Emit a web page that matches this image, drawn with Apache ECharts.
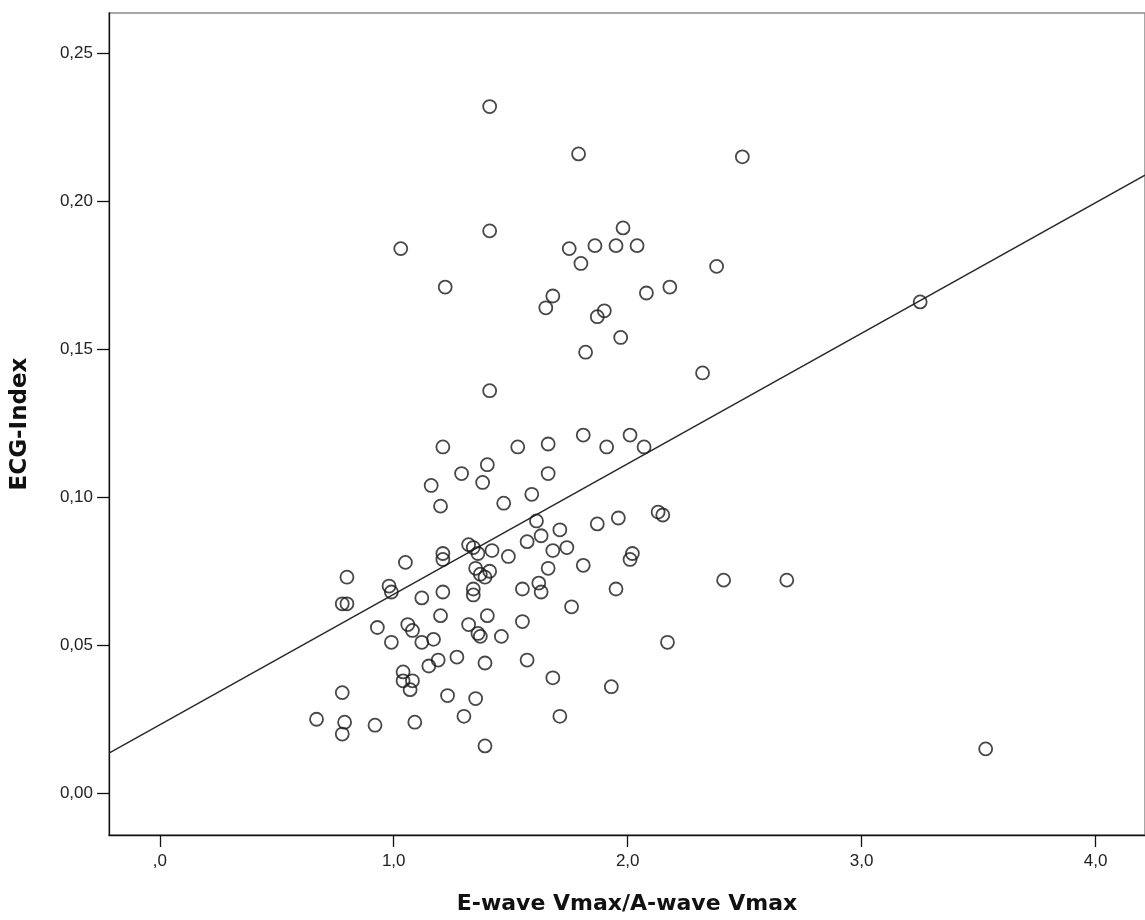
<!DOCTYPE html>
<html>
<head>
<meta charset="utf-8">
<script src="https://cdn.jsdelivr.net/npm/echarts@6/dist/echarts.min.js"></script>
<style>
  html, body { margin: 0; padding: 0; background: #fff; }
  #chart { width: 1145px; height: 920px; }
</style>
</head>
<body>
<div id="chart"></div>
<script>
// E/A ratio (x) against ECG-Index (y), one entry per subject
const eaRatio = [
  1.41, 1.79, 2.49, 1.03, 1.41, 1.98, 1.75, 1.86, 1.95, 2.04,
  1.80, 2.38, 1.22, 1.68, 1.65, 1.90, 1.87, 2.08, 2.18, 1.97,
  1.82, 2.32, 1.41, 3.25, 1.21, 1.53, 1.66, 1.81, 1.91, 2.01,
  2.07, 1.16, 1.29, 1.40, 1.38, 1.66, 1.20, 1.47, 1.59, 1.61,
  1.71, 1.87, 1.96, 2.13, 2.15, 1.32, 1.34, 1.36, 1.42, 1.49,
  1.57, 1.63, 1.68, 1.74, 2.02, 2.01, 1.21, 1.21, 1.05, 1.35,
  1.37, 1.39, 1.41, 1.66, 1.81, 0.80, 0.98, 0.99, 0.78, 0.80,
  1.21, 1.12, 1.34, 1.34, 1.55, 1.62, 1.63, 1.95, 2.41, 2.68,
  1.20, 1.40, 1.55, 1.32, 1.36, 1.37, 1.46, 1.76, 1.06, 1.08,
  0.93, 0.99, 1.12, 1.17, 1.27, 1.19, 1.15, 1.39, 1.57, 2.17,
  1.68, 1.93, 1.04, 1.04, 1.08, 1.07, 0.78, 1.23, 1.35, 0.67,
  0.79, 0.78, 0.92, 1.09, 1.30, 1.39, 1.71, 3.53
];
const ecgIndex = [
  0.232, 0.216, 0.215, 0.184, 0.190, 0.191, 0.184, 0.185, 0.185, 0.185,
  0.179, 0.178, 0.171, 0.168, 0.164, 0.163, 0.161, 0.169, 0.171, 0.154,
  0.149, 0.142, 0.136, 0.166, 0.117, 0.117, 0.118, 0.121, 0.117, 0.121,
  0.117, 0.104, 0.108, 0.111, 0.105, 0.108, 0.097, 0.098, 0.101, 0.092,
  0.089, 0.091, 0.093, 0.095, 0.094, 0.084, 0.083, 0.081, 0.082, 0.080,
  0.085, 0.087, 0.082, 0.083, 0.081, 0.079, 0.081, 0.079, 0.078, 0.076,
  0.074, 0.073, 0.075, 0.076, 0.077, 0.073, 0.070, 0.068, 0.064, 0.064,
  0.068, 0.066, 0.069, 0.067, 0.069, 0.071, 0.068, 0.069, 0.072, 0.072,
  0.060, 0.060, 0.058, 0.057, 0.054, 0.053, 0.053, 0.063, 0.057, 0.055,
  0.056, 0.051, 0.051, 0.052, 0.046, 0.045, 0.043, 0.044, 0.045, 0.051,
  0.039, 0.036, 0.041, 0.038, 0.038, 0.035, 0.034, 0.033, 0.032, 0.025,
  0.024, 0.020, 0.023, 0.024, 0.026, 0.016, 0.026, 0.015
];

// Linear fit line: ECG-Index = fitIntercept + fitSlope * E/A
const fitIntercept = 0.0231;
const fitSlope = 0.0441;

// Axis ranges and tick values
const xRange = [-0.217, 4.211];
const yRange = [-0.0141, 0.2636];
const xTicks = [0, 1, 2, 3, 4];
const yTicks = [0, 0.05, 0.10, 0.15, 0.20, 0.25];

const points = eaRatio.map((x, i) => [x, ecgIndex[i]]);
const fitLine = xRange.map(x => [x, fitIntercept + fitSlope * x]);

const fmtX = v => (v === 0 ? ',0' : v.toFixed(1).replace('.', ','));
const fmtY = v => v.toFixed(2).replace('.', ',');

const chart = echarts.init(document.getElementById('chart'), null, { renderer: 'canvas' });
chart.setOption({
  animation: false,
  backgroundColor: '#ffffff',
  grid: {
    left: 109, top: 13, right: -2, bottom: 85,
    show: true, borderColor: '#8a8a8a', borderWidth: 1.5, backgroundColor: 'transparent'
  },
  xAxis: {
    type: 'value',
    min: xRange[0], max: xRange[1],
    name: 'E-wave Vmax/A-wave Vmax',
    nameLocation: 'middle',
    nameGap: 58,
    nameTextStyle: { fontFamily: 'DejaVu Sans', fontWeight: 'bold', fontSize: 22, color: '#111' },
    axisLine: { show: true, onZero: false, lineStyle: { color: '#111', width: 1.3 } },
    axisTick: { show: true, length: 12, customValues: xTicks, lineStyle: { color: '#111', width: 1.3 } },
    axisLabel: {
      customValues: xTicks, formatter: fmtX, margin: 18,
      fontFamily: 'Liberation Sans', fontSize: 17, color: '#222'
    },
    splitLine: { show: false }
  },
  yAxis: {
    type: 'value',
    min: yRange[0], max: yRange[1],
    name: 'ECG-Index',
    nameLocation: 'middle',
    nameGap: 77,
    nameTextStyle: { fontFamily: 'DejaVu Sans', fontWeight: 'bold', fontSize: 23, color: '#111' },
    axisLine: { show: true, onZero: false, lineStyle: { color: '#111', width: 1.3 } },
    axisTick: { show: true, length: 12, customValues: yTicks, lineStyle: { color: '#111', width: 1.3 } },
    axisLabel: {
      customValues: yTicks, formatter: fmtY, margin: 16,
      fontFamily: 'Liberation Sans', fontSize: 17, color: '#222'
    },
    splitLine: { show: false }
  },
  series: [
    {
      type: 'line',
      data: fitLine,
      showSymbol: false,
      symbol: 'none',
      silent: true,
      lineStyle: { color: '#2a2a2a', width: 1.5 },
      z: 1
    },
    {
      type: 'scatter',
      data: points,
      symbol: 'circle',
      symbolSize: 13,
      silent: true,
      itemStyle: { color: 'rgba(0,0,0,0)', borderColor: '#1a1a1a', borderWidth: 1.8 },
      z: 2
    }
  ]
});
</script>
</body>
</html>
